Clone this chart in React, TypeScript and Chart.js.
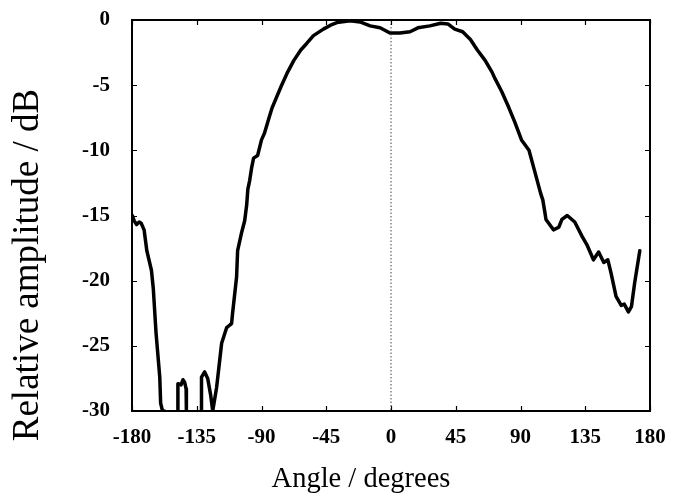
import { useEffect, useRef } from "react";
import { Chart, registerables } from "chart.js";

Chart.register(...registerables);

const angles = [
  -179.8, -178.5, -176.8, -175, -173.6, -171.6, -169.7, -166.5, -165.2, -163.3,
  -160.7, -160.1, -158.8, -157.5, -156, -149, -148.3, -148.1, -145.9, -144.6,
  -143.4, -142.4, -142.2, -141, -133, -131.9, -131.7, -129.5, -127.4, -125.3,
  -123.9, -121.2, -117.7, -114.2, -112, -110.8, -110.1, -107.3, -106.6, -103.8,
  -101.7, -100.3, -99.5, -98.2, -96.8, -95.5, -92.7, -90, -88, -84.5,
  -82.5, -76.4, -72.3, -67.5, -62.7, -58.6, -53.9, -47, -42, -37.6,
  -28.4, -21.5, -14.5, -7.6, -0.7, 6.2, 13.2, 18.7, 27, 34.6,
  39.5, 44.3, 49.8, 55.2, 60, 65.4, 70.2, 72.3, 77, 81.8,
  85.9, 90.7, 95.9, 99.6, 104, 105.5, 107, 107.7, 112.9, 116.6,
  118.8, 122.5, 127.7, 132.8, 136.4, 140.7, 144.3, 147.9, 150.7, 152.9,
  156.4, 160, 162.1, 165, 167.1, 169.3, 172.9,
];

const amplitudes = [
  -15.0, -15.4, -15.7, -15.5, -15.6, -16.1, -17.7, -19.2, -20.6, -24,
  -27.4, -29.4, -30, -30, -33, -33, -30, -27.9, -28.0, -27.6,
  -27.8, -28.3, -30, -33, -33, -30, -27.4, -27.0, -27.5, -28.8,
  -30, -28.2, -24.8, -23.6, -23.4, -23.3, -22.5, -19.7, -17.7, -16.3,
  -15.4, -14.2, -13.0, -12.3, -11.3, -10.6, -10.4, -9.2, -8.7, -7.4,
  -6.7, -5.1, -4.1, -3.1, -2.3, -1.8, -1.2, -0.7, -0.4, -0.2,
  -0.05, -0.15, -0.45, -0.6, -1.0, -1.0, -0.9, -0.6, -0.45, -0.25,
  -0.3, -0.7, -0.9, -1.5, -2.3, -3.1, -4.0, -4.5, -5.5, -6.7,
  -7.8, -9.2, -10.0, -11.5, -13.3, -13.8, -14.8, -15.3, -16.1, -15.9,
  -15.3, -15.0, -15.5, -16.6, -17.3, -18.4, -17.8, -18.6, -18.4, -19.4,
  -21.2, -21.9, -21.8, -22.4, -22.0, -20.2, -17.7,
];

const referenceAngle = [0, 0];
const referenceLevel = [0, -30];

const xTicks = [-180, -135, -90, -45, 0, 45, 90, 135, 180];
const yTicks = [0, -5, -10, -15, -20, -25, -30];

const xTitle = "Angle / degrees";
const yTitle = "Relative amplitude / dB";

const SERIF = '"Liberation Serif", "Times New Roman", serif';

export default function App() {
  const ref = useRef<HTMLCanvasElement>(null);

  useEffect(() => {
    const framePlugin = {
      id: "frameAndTitles",
      afterDatasetsDraw(chart: any) {
        const { ctx, chartArea } = chart;
        const { left, right, top, bottom } = chartArea;
        const xs = chart.scales.x;
        const ys = chart.scales.y;
        ctx.save();
        ctx.strokeStyle = "#000";
        ctx.lineWidth = 2;
        ctx.strokeRect(left, top, right - left, bottom - top);
        ctx.lineWidth = 1.2;
        const tl = 5;
        ctx.beginPath();
        for (const v of xTicks) {
          const px = Math.round(xs.getPixelForValue(v)) + 0.5;
          ctx.moveTo(px, bottom);
          ctx.lineTo(px, bottom - tl);
          ctx.moveTo(px, top);
          ctx.lineTo(px, top + tl);
        }
        for (const v of yTicks) {
          const py = Math.round(ys.getPixelForValue(v)) + 0.5;
          ctx.moveTo(left, py);
          ctx.lineTo(left + tl, py);
          ctx.moveTo(right, py);
          ctx.lineTo(right - tl, py);
        }
        ctx.stroke();
        ctx.restore();
      },
      afterDraw(chart: any) {
        const { ctx } = chart;
        ctx.save();
        ctx.fillStyle = "#000";
        ctx.textAlign = "center";
        ctx.textBaseline = "alphabetic";
        ctx.font = `28.5px ${SERIF}`;
        ctx.fillText(xTitle, 361, 487);
        ctx.translate(38, 265);
        ctx.rotate(-Math.PI / 2);
        ctx.font = `37px ${SERIF}`;
        ctx.fillText(yTitle, 0, 0);
        ctx.restore();
      },
    };

    const chart = new Chart(ref.current as HTMLCanvasElement, {
      type: "line",
      data: {
        datasets: [
          {
            data: referenceAngle.map((a, i) => ({ x: a, y: referenceLevel[i] })),
            borderColor: "#444",
            borderWidth: 1,
            borderDash: [1.5, 2],
            pointRadius: 0,
            fill: false,
          },
          {
            data: angles.map((a, i) => ({ x: a, y: amplitudes[i] })),
            borderColor: "#000",
            borderWidth: 3.5,
            pointRadius: 0,
            tension: 0,
            fill: false,
            borderJoinStyle: "round",
            borderCapStyle: "round",
          },
        ],
      },
      options: {
        animation: false,
        responsive: false,
        maintainAspectRatio: false,
        layout: { padding: { top: 20, right: 27, left: 0, bottom: 0 } },
        plugins: {
          legend: { display: false },
          tooltip: { enabled: false },
        },
        scales: {
          x: {
            type: "linear",
            min: -180,
            max: 180,
            afterBuildTicks: (s: any) => {
              s.ticks = xTicks.map((v) => ({ value: v }));
            },
            afterFit: (s: any) => {
              s.height = 83;
              s.paddingLeft = 0;
              s.paddingRight = 0;
            },
            grid: { display: false, drawTicks: false },
            border: { display: false },
            ticks: {
              color: "#000",
              font: { family: SERIF, size: 21, weight: "bold" },
              padding: 14,
              maxRotation: 0,
              autoSkip: false,
            },
          },
          y: {
            type: "linear",
            min: -30,
            max: 0,
            afterBuildTicks: (s: any) => {
              s.ticks = yTicks.map((v) => ({ value: v }));
            },
            afterFit: (s: any) => {
              s.width = 132;
              s.paddingTop = 0;
              s.paddingBottom = 0;
            },
            grid: { display: false, drawTicks: false },
            border: { display: false },
            ticks: {
              color: "#000",
              font: { family: SERIF, size: 21, weight: "bold" },
              padding: 22,
              autoSkip: false,
            },
          },
        },
      },
      plugins: [framePlugin],
    } as any);

    return () => chart.destroy();
  }, []);

  return (
    <div
      style={{
        position: "fixed",
        left: 0,
        top: 0,
        width: 677,
        height: 494,
        background: "#fff",
      }}
    >
      <canvas ref={ref} width={677} height={494} style={{ display: "block" }} />
    </div>
  );
}
